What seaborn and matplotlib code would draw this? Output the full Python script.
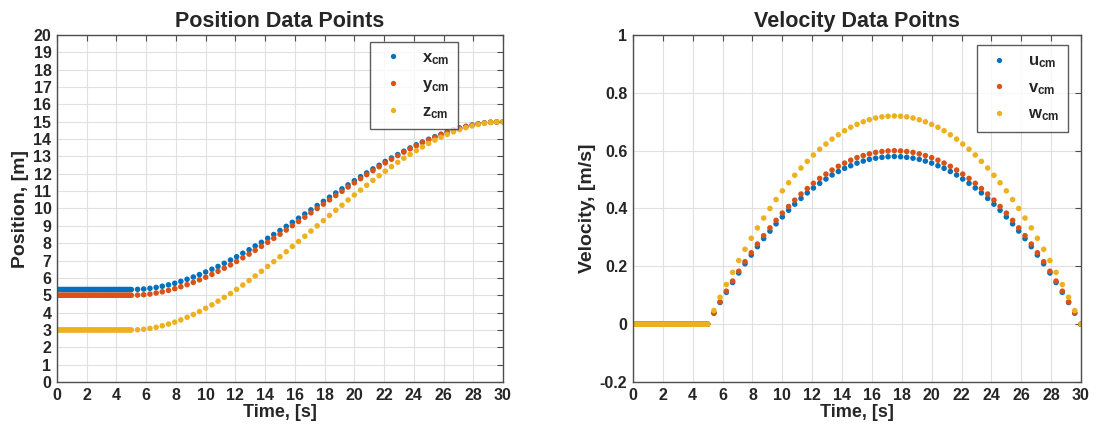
import matplotlib
matplotlib.use("Agg")
import matplotlib.pyplot as plt
from matplotlib.lines import Line2D
import pandas as pd
import seaborn as sns

# ---- sample times ----
# hold phase (object at rest)
t_hold = [0.0, 0.1, 0.2, 0.3, 0.4, 0.5, 0.6, 0.7, 0.8, 0.9,
          1.0, 1.1, 1.2, 1.3, 1.4, 1.5, 1.6, 1.7, 1.8, 1.9,
          2.0, 2.1, 2.2, 2.3, 2.4, 2.5, 2.6, 2.7, 2.8, 2.9,
          3.0, 3.1, 3.2, 3.3, 3.4, 3.5, 3.6, 3.7, 3.8, 3.9,
          4.0, 4.1, 4.2, 4.3, 4.4, 4.5, 4.6, 4.7, 4.8, 4.9]
# motion phase
t_move = [5.00, 5.42, 5.83, 6.25, 6.67, 7.08, 7.50, 7.92, 8.33, 8.75, 9.17, 9.58,
          10.00, 10.42, 10.83, 11.25, 11.67, 12.08, 12.50, 12.92, 13.33, 13.75, 14.17, 14.58,
          15.00, 15.42, 15.83, 16.25, 16.67, 17.08, 17.50, 17.92, 18.33, 18.75, 19.17, 19.58,
          20.00, 20.42, 20.83, 21.25, 21.67, 22.08, 22.50, 22.92, 23.33, 23.75, 24.17, 24.58,
          25.00, 25.42, 25.83, 26.25, 26.67, 27.08, 27.50, 27.92, 28.33, 28.75, 29.17, 29.58,
          30.00]

# ---- position of the centre of mass [m] ----
x_start, y_start, z_start = 5.33, 5.00, 3.00
x_move = [5.33, 5.34, 5.36, 5.40, 5.45, 5.52, 5.60, 5.69, 5.80, 5.92, 6.05, 6.19,
          6.34, 6.50, 6.66, 6.84, 7.03, 7.22, 7.42, 7.62, 7.84, 8.05, 8.28, 8.50,
          8.73, 8.97, 9.20, 9.44, 9.68, 9.92, 10.17, 10.41, 10.65, 10.89, 11.13, 11.36,
          11.60, 11.83, 12.05, 12.28, 12.49, 12.71, 12.91, 13.11, 13.30, 13.49, 13.67, 13.83,
          13.99, 14.14, 14.28, 14.41, 14.53, 14.64, 14.73, 14.81, 14.88, 14.93, 14.97, 14.99,
          15.00]
y_move = [5.00, 5.01, 5.03, 5.07, 5.13, 5.20, 5.28, 5.38, 5.49, 5.61, 5.74, 5.89,
          6.04, 6.20, 6.38, 6.56, 6.75, 6.95, 7.16, 7.37, 7.59, 7.82, 8.05, 8.28,
          8.52, 8.76, 9.01, 9.25, 9.50, 9.75, 10.00, 10.25, 10.50, 10.75, 10.99, 11.24,
          11.48, 11.72, 11.95, 12.18, 12.41, 12.63, 12.84, 13.05, 13.25, 13.44, 13.62, 13.80,
          13.96, 14.11, 14.26, 14.39, 14.51, 14.62, 14.72, 14.80, 14.87, 14.93, 14.97, 14.99,
          15.00]
z_move = [3.00, 3.01, 3.04, 3.09, 3.15, 3.24, 3.34, 3.45, 3.58, 3.73, 3.89, 4.06,
          4.25, 4.45, 4.66, 4.88, 5.10, 5.34, 5.59, 5.85, 6.11, 6.38, 6.66, 6.94,
          7.22, 7.51, 7.81, 8.10, 8.40, 8.70, 9.00, 9.30, 9.60, 9.90, 10.19, 10.49,
          10.78, 11.06, 11.34, 11.62, 11.89, 12.15, 12.41, 12.66, 12.90, 13.12, 13.34, 13.55,
          13.75, 13.94, 14.11, 14.27, 14.42, 14.55, 14.66, 14.76, 14.85, 14.91, 14.96, 14.99,
          15.00]

# ---- velocity of the centre of mass [m/s] ----
u_start, v_start, w_start = 0.0, 0.0, 0.0
u_move = [0.000, 0.038, 0.075, 0.110, 0.144, 0.177, 0.209, 0.239, 0.268, 0.296, 0.322, 0.347,
          0.371, 0.394, 0.415, 0.435, 0.454, 0.471, 0.487, 0.502, 0.516, 0.528, 0.539, 0.548,
          0.557, 0.564, 0.570, 0.574, 0.577, 0.579, 0.580, 0.579, 0.577, 0.574, 0.570, 0.564,
          0.557, 0.548, 0.539, 0.528, 0.516, 0.502, 0.487, 0.471, 0.454, 0.435, 0.415, 0.394,
          0.371, 0.347, 0.322, 0.296, 0.268, 0.239, 0.209, 0.177, 0.144, 0.110, 0.075, 0.038,
          0.000]
v_move = [0.000, 0.039, 0.077, 0.114, 0.149, 0.183, 0.216, 0.247, 0.277, 0.306, 0.333, 0.359,
          0.384, 0.407, 0.429, 0.450, 0.469, 0.487, 0.504, 0.519, 0.533, 0.546, 0.557, 0.567,
          0.576, 0.583, 0.589, 0.594, 0.597, 0.599, 0.600, 0.599, 0.597, 0.594, 0.589, 0.583,
          0.576, 0.567, 0.557, 0.546, 0.533, 0.519, 0.504, 0.487, 0.469, 0.450, 0.429, 0.407,
          0.384, 0.359, 0.333, 0.306, 0.277, 0.247, 0.216, 0.183, 0.149, 0.114, 0.077, 0.039,
          0.000]
w_move = [0.000, 0.047, 0.093, 0.137, 0.179, 0.220, 0.259, 0.297, 0.333, 0.367, 0.400, 0.431,
          0.461, 0.489, 0.515, 0.540, 0.563, 0.585, 0.605, 0.623, 0.640, 0.655, 0.669, 0.681,
          0.691, 0.700, 0.707, 0.713, 0.717, 0.719, 0.720, 0.719, 0.717, 0.713, 0.707, 0.700,
          0.691, 0.681, 0.669, 0.655, 0.640, 0.623, 0.605, 0.585, 0.563, 0.540, 0.515, 0.489,
          0.461, 0.431, 0.400, 0.367, 0.333, 0.297, 0.259, 0.220, 0.179, 0.137, 0.093, 0.047,
          0.000]

# ---- axis ticks / labels ----
time_ticks = [0, 2, 4, 6, 8, 10, 12, 14, 16, 18, 20, 22, 24, 26, 28, 30]
pos_ticks = [0, 1, 2, 3, 4, 5, 6, 7, 8, 9, 10, 11, 12, 13, 14, 15, 16, 17, 18, 19, 20]
vel_ticks = [-0.2, 0.0, 0.2, 0.4, 0.6, 0.8, 1.0]
vel_tick_labels = ["-0.2", "0", "0.2", "0.4", "0.6", "0.8", "1"]

pos_names = ["x", "y", "z"]
vel_names = ["u", "v", "w"]
colors = ["#0072BD", "#D95319", "#EDB120"]

# ---- style ----
sns.set_style("white")
plt.rcParams["font.family"] = ["Liberation Sans", "DejaVu Sans"]
plt.rcParams["font.weight"] = "bold"
plt.rcParams["mathtext.fontset"] = "custom"
plt.rcParams["mathtext.rm"] = "Liberation Sans:bold"
plt.rcParams["mathtext.bf"] = "Liberation Sans:bold"
plt.rcParams["mathtext.it"] = "Liberation Sans:bold"


def long_frame(names, starts, moves):
    rows = []
    for name, start, move in zip(names, starts, moves):
        for t in t_hold:
            rows.append((t, start, name))
        for t, val in zip(t_move, move):
            rows.append((t, val, name))
    return pd.DataFrame(rows, columns=["t", "value", "series"])


pos_df = long_frame(pos_names, [x_start, y_start, z_start], [x_move, y_move, z_move])
vel_df = long_frame(vel_names, [u_start, v_start, w_start], [u_move, v_move, w_move])

fig = plt.figure(figsize=(10.96, 4.40), dpi=100)
ax1 = fig.add_axes([57 / 1096, 58 / 440, 446 / 1096, 347 / 440])
ax2 = fig.add_axes([633 / 1096, 58 / 440, 448 / 1096, 347 / 440])

edge = "#4d4d4d"
text_col = "#262626"


def style_axes(ax):
    ax.set_xlim(0, 30)
    ax.set_xticks(time_ticks)
    ax.grid(True, color="#e0e0e0", linewidth=0.8)
    ax.set_axisbelow(True)
    for sp in ax.spines.values():
        sp.set_visible(True)
        sp.set_color(edge)
        sp.set_linewidth(1.0)
    ax.tick_params(direction="in", length=4, width=0.8, color=edge,
                   top=True, right=True, labelsize=11.5, pad=4, labelcolor=text_col)
    for lab in ax.get_xticklabels() + ax.get_yticklabels():
        lab.set_fontweight("bold")


def draw(ax, df, names, legend_anchor):
    for name, col in zip(names, colors):
        sub = df[df["series"] == name]
        sns.scatterplot(data=sub, x="t", y="value", color=col, s=16,
                        edgecolor="none", linewidth=0, legend=False, ax=ax)
    handles = [Line2D([], [], marker="o", linestyle="none", markersize=3.8,
                      markerfacecolor=c, markeredgecolor="none") for c in colors]
    labels = [r"$\mathbf{%s}_{\mathbf{cm}}$" % n for n in names]
    leg = ax.legend(handles, labels, loc="upper right", bbox_to_anchor=legend_anchor,
                    borderaxespad=0, frameon=True, fancybox=False, fontsize=12,
                    handlelength=1.7, handletextpad=0.9, labelspacing=0.6,
                    borderpad=0.5)
    leg.get_frame().set_edgecolor("#333333")
    leg.get_frame().set_linewidth(1.0)
    for txt in leg.get_texts():
        txt.set_color(text_col)


draw(ax1, pos_df, pos_names, (0.899, 0.98))
ax1.set_ylim(0, 20)
ax1.set_yticks(pos_ticks)
style_axes(ax1)
ax1.set_title("Position Data Points", fontsize=15.5, fontweight="bold", pad=6)
ax1.set_xlabel("Time, [s]", fontsize=13, fontweight="bold", labelpad=1, color=text_col)
ax1.set_ylabel("Position, [m]", fontsize=14, fontweight="bold", labelpad=3, color=text_col)

draw(ax2, vel_df, vel_names, (0.971, 0.971))
ax2.set_ylim(-0.2, 1.0)
ax2.set_yticks(vel_ticks)
ax2.set_yticklabels(vel_tick_labels)
style_axes(ax2)
ax2.set_title("Velocity Data Poitns", fontsize=15.5, fontweight="bold", pad=6)
ax2.set_xlabel("Time, [s]", fontsize=13, fontweight="bold", labelpad=1, color=text_col)
ax2.set_ylabel("Velocity, [m/s]", fontsize=14, fontweight="bold", labelpad=3, color=text_col)

fig.savefig("out.png", dpi=100)
